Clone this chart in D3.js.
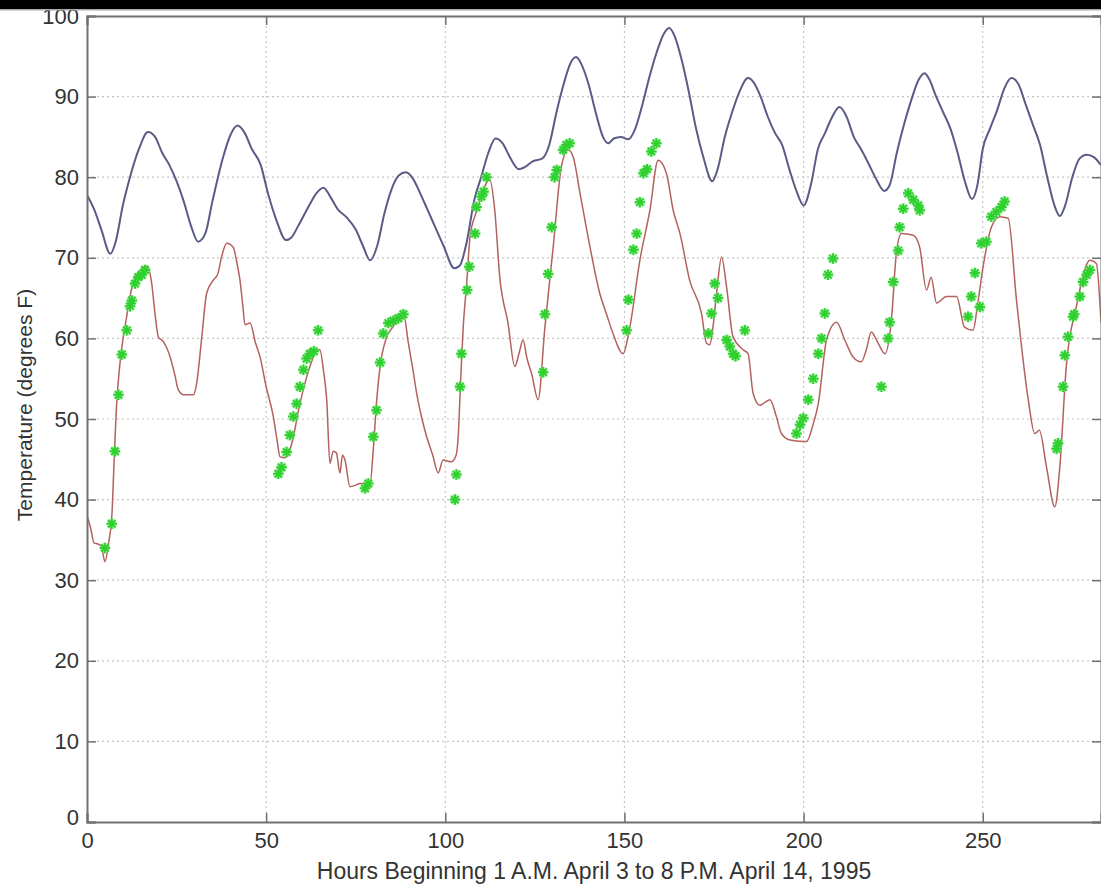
<!DOCTYPE html>
<html>
<head>
<meta charset="utf-8">
<script src="https://cdn.jsdelivr.net/npm/d3@7"></script>
<style>
  body { margin: 0; background: #fff; }
  text { font-family: "Liberation Sans", Arial, sans-serif; fill: #333; }
</style>
</head>
<body>
<div id="grafico"></div>
<script>
// blue curve (upper)
const azulHoras = [0,2,4,6.5,8,10,12,14.5,17,19,21,23,25,27,29,31,33,35,38,40,42,44,46,48.5,50.5,53,55.5,57,59,62,64,66,68,70,72.5,75,77,79,81,83,85,87,89,91,93,95,97,99.5,102.5,104,106,108,110,112,114,116,118,120.5,122,124.5,127,129,131,133,135,136.5,138,140,142,144,145.5,147,149,151,153,155,157,159,161,162.5,164,166,168,170,172,174.5,176,178,180,182,184.5,186,188,190,192,194,196,198,200,202,204,206,208,210,212,214,216,218,220,222.5,224,226,228,230,232,233.8,235,237,239,241,243,245,247,248.5,250,252,254,256,258,260,262,264,266,268,270,271.5,273,275,277,279,281,283];
const azulTemp = [77.8,76,73.5,70.5,72,76.5,80,83.5,85.6,85,83,81.5,79.5,77,74,72,73,77,82.5,85.2,86.4,85.5,83.5,81.5,78,74.5,72.2,72.5,74,76.5,78,78.7,77.5,76,75,73.5,71.5,69.7,71.5,75.5,78.5,80.2,80.6,79.8,78,76,74,71.5,68.7,69,72,77,80,83,84.8,84.2,82.5,81,81.2,82,82.3,84,88,91.5,94.2,94.9,94,91.5,88,85,84.2,84.8,85,84.7,86,89,92.5,95.5,97.8,98.5,97.5,94.5,90.5,86,82.5,79.5,81,85,88,90.5,92.3,91.8,90,87.5,85.5,84,81,78.3,76.5,79,83.5,85.5,87.5,88.7,87.5,85,83.5,81.8,80,78.3,79,83,86.5,89.5,92,92.9,92.2,90,88,86,83,79.5,77.3,79,83.5,86,88.3,91,92.3,91.5,89,86.5,84,80,76.5,75.2,76.5,80,82.3,82.8,82.5,81.5];

// red curve (lower)
const rojoHoras = [0,1,2,3,4,5,6,7,7.5,8.3,9,10,11,12,13.4,15,16.6,18,19,19.9,21.3,23.2,24.5,25.5,27,29.7,30.6,32,33.4,35.2,36.5,37.5,39,40.8,42,42.7,43.5,44.1,45.5,47,48.3,50,52,53,53.9,55.2,56.5,57.6,59,61.3,63,64.1,65,66,66.9,67.8,68.7,69.6,70.6,71.3,72,73.4,75,76.2,79,79.9,80.8,81.8,83.5,85.5,88.3,89.7,91,92,93.5,94.8,96.5,98,99.4,101.7,103,103.6,104.3,105,106,106.9,108.5,109.7,112.4,113.8,115.2,117.5,119.4,120.5,121.7,122.8,124.1,125.9,127.8,130.1,132.4,134.3,135.7,137.6,140.4,143.1,145,146.8,149.6,151.5,154.3,157.1,159.4,161.7,163.6,165.5,168.2,171.5,172.9,173.8,174.7,175.8,177.1,178.5,180.3,183.1,184.5,185.9,187.8,189,190.6,192.4,193.8,196.2,200.8,202.7,204.1,206.4,209.2,211.5,213.8,216.1,217.5,218.9,220.8,222.7,224.5,225.9,227.3,230.6,232.4,234.3,235.6,237.1,239.9,242.7,244.9,247.3,248.5,250.1,252.4,254.7,257.1,259.4,262.7,264.5,265.8,267.8,270.1,271.5,273.3,276.1,279.9,281.7,283];
const rojoTemp = [38,36.5,34.6,34.5,34.2,32.3,34.5,38.5,44,52,56,59.8,62.5,65.2,67.6,68.5,69,67,63,60.2,59.6,57.7,55.5,53.6,53,53,54.4,60,65.6,67.2,68,70,71.8,71.3,69,67.2,64,61.7,61.9,59.5,57.7,54,50.3,47.5,45.3,45.2,46,47.8,51,55.2,57.5,58.6,58.6,56,52.4,44.5,46,45.8,43.3,45.5,44.9,41.6,41.8,42,42,46.2,52,56.5,60,61.5,63.1,59.4,56,53.2,50,47.8,45.5,43.3,44.9,44.7,45.5,47.8,55,61.4,67,72.6,75.5,77.2,79.7,75.9,67.6,61.9,56.5,58,59.8,57.5,55.6,52.4,61.4,71.3,81.3,83.4,82.5,78,71.3,65.6,63,60.6,58.1,61.4,69.7,75.9,82.1,80.5,75.9,73,67.2,63.1,59.4,59.2,61.4,66,70.1,66.4,60.2,58.6,58.1,53.2,51.7,52,52.4,50.3,48.2,47.4,47.2,49.4,51.9,59.8,62,59.8,57.7,57.1,58.6,60.8,59.4,58.1,62.3,70.6,73,72.8,71.3,66,67.6,64.4,65.2,65.2,61.4,61,64,68.9,73.8,75.1,74.9,64.8,52.4,48.2,48.6,44,39.1,44,56.5,63.9,69.7,69.3,62];

// green asterisks
const verdeHoras = [5,6.9,7.8,8.8,9.7,11.1,12,12.5,13.4,14.3,15.3,16.2,
  53.4,54.3,55.7,56.6,57.6,58.5,59.4,60.4,61.3,62.2,63.3,64.5,
  77.6,78.5,79.9,80.8,81.8,82.7,84.1,85.5,86.9,88.3,
  102.7,103.1,104.1,104.5,106.1,106.7,108.3,108.7,110.1,110.7,111.5,
  127.3,127.8,128.7,129.7,130.5,131.1,132.9,133.8,134.7,
  150.6,151.1,152.5,153.4,154.3,155.3,156.3,157.5,158.9,
  173.4,174.3,175.2,176.1,178.5,179.4,180.3,181,183.6,
  198,199,199.9,201.3,202.7,204.1,205,205.9,206.8,208.2,
  221.7,223.6,224,225,226.4,226.8,227.8,229.2,230.6,232,232.4,
  245.9,246.8,247.8,249.2,249.6,251,252.4,253.8,255.2,256.1,
  270.6,271,272.4,272.9,273.8,275.2,275.5,277.1,278,279,279.9];
const verdeTemp = [34,37,46,53,58,61,64,64.7,66.8,67.6,67.9,68.5,
  43.2,44,45.9,48,50.3,51.9,54,56.1,57.5,58.1,58.4,61,
  41.4,42,47.8,51.1,57,60.6,61.9,62.2,62.5,63,
  40,43.1,54,58.1,66,68.9,73,76.3,77.6,78.2,80,
  55.8,63,68,73.8,80,80.9,83.4,84,84.2,
  61,64.8,71,73,76.9,80.5,81,83.2,84.2,
  60.6,63.1,66.8,65,59.8,59,58.1,57.8,61,
  48.2,49.3,50.1,52.4,55,58.1,60,63.1,67.9,69.9,
  54,60,62,67,70.9,73.8,76.1,78,77.2,76.5,75.9,
  62.7,65.2,68.1,63.9,71.8,72,75.1,75.7,76.3,77,
  46.3,47,54,57.9,60.2,62.7,63,65.2,67,67.9,68.5];

const ticksX = [0, 50, 100, 150, 200, 250];
const ticksY = [0, 10, 20, 30, 40, 50, 60, 70, 80, 90, 100];

const ancho = 1101, alto = 887;
const izq = 87, der = 1101, arriba = 16, abajo = 822;

const $svg = d3.select("#grafico")
  .append("svg")
  .attr("width", ancho)
  .attr("height", alto);

$svg.append("rect").attr("width", ancho).attr("height", alto).attr("fill", "#fff");

const x = d3.scaleLinear().domain([0, 283]).range([izq, der]);
const y = d3.scaleLinear().domain([0, 100]).range([abajo, arriba]);

// grilla punteada
const grilla = $svg.append("g");
grilla.selectAll(".gx").data(ticksX.slice(1)).join("line")
  .attr("x1", d => x(d)).attr("x2", d => x(d))
  .attr("y1", arriba).attr("y2", abajo)
  .attr("stroke", "#c4c4c4").attr("stroke-width", 1.2)
  .attr("stroke-dasharray", "2,3");
grilla.selectAll(".gy").data(ticksY.slice(1, -1)).join("line")
  .attr("x1", izq).attr("x2", der)
  .attr("y1", d => y(d)).attr("y2", d => y(d))
  .attr("stroke", "#c4c4c4").attr("stroke-width", 1.2)
  .attr("stroke-dasharray", "2,3");

$svg.append("clipPath").attr("id", "recorte")
  .append("rect").attr("x", izq).attr("y", arriba)
  .attr("width", der - izq).attr("height", abajo - arriba);

const datos = $svg.append("g").attr("clip-path", "url(#recorte)");
const linea = d3.line().x(d => x(d[0])).y(d => y(d[1])).curve(d3.curveMonotoneX);

datos.append("path")
  .attr("d", linea(d3.zip(azulHoras, azulTemp)))
  .attr("fill", "none").attr("stroke", "#5a5b86").attr("stroke-width", 2);

datos.append("path")
  .attr("d", linea(d3.zip(rojoHoras, rojoTemp)))
  .attr("fill", "none").attr("stroke", "#b3625e").attr("stroke-width", 1.5);

// asterisco tipo matlab
const asterisco = {
  draw(ctx, size) {
    const r = Math.sqrt(size) / 2, k = r * Math.SQRT1_2;
    ctx.moveTo(-r, 0); ctx.lineTo(r, 0);
    ctx.moveTo(0, -r); ctx.lineTo(0, r);
    ctx.moveTo(-k, -k); ctx.lineTo(k, k);
    ctx.moveTo(-k, k); ctx.lineTo(k, -k);
  }
};
const puntos = d3.zip(verdeHoras, verdeTemp);
datos.append("g").selectAll("circle").data(puntos).join("circle")
  .attr("cx", d => x(d[0])).attr("cy", d => y(d[1]))
  .attr("r", 5.5).attr("fill", "#8ef08e").attr("opacity", 0.55);
datos.append("g").selectAll("path").data(puntos).join("path")
  .attr("transform", d => `translate(${x(d[0])},${y(d[1])})`)
  .attr("d", d3.symbol(asterisco, 110))
  .attr("fill", "none").attr("stroke", "#2fd02f").attr("stroke-width", 2);

// ejes con ticks hacia adentro
const ejeX = $svg.append("g").attr("transform", `translate(0,${abajo})`)
  .call(d3.axisBottom(x).tickValues(ticksX).tickSize(-9).tickPadding(10));
const ejeY = $svg.append("g").attr("transform", `translate(${izq},0)`)
  .call(d3.axisLeft(y).tickValues(ticksY).tickSize(-9).tickPadding(8));
$svg.append("g").attr("transform", `translate(0,${arriba})`)
  .call(d3.axisTop(x).tickValues(ticksX).tickSize(-9).tickFormat(""));
$svg.append("g").attr("transform", `translate(${der},0)`)
  .call(d3.axisRight(y).tickValues(ticksY).tickSize(-9).tickFormat(""));

$svg.selectAll(".domain").attr("stroke", "#707070").attr("stroke-width", 2);
$svg.selectAll(".tick line").attr("stroke", "#707070").attr("stroke-width", 1.5);
$svg.selectAll(".tick text").attr("font-size", 22).attr("fill", "#333")
  .attr("font-family", "Liberation Sans, Arial, sans-serif");
ejeY.selectAll(".tick text").filter(d => d === 0).attr("dy", "0.1em");

$svg.append("text")
  .attr("x", 594).attr("y", 879)
  .attr("text-anchor", "middle").attr("font-size", 23)
  .text("Hours Beginning 1 A.M. April 3 to 8 P.M. April 14, 1995");

$svg.append("text")
  .attr("transform", `translate(32,405) rotate(-90)`)
  .attr("text-anchor", "middle").attr("font-size", 21)
  .text("Temperature (degrees F)");

// franja negra superior
$svg.append("rect").attr("x", 0).attr("y", 0).attr("width", ancho).attr("height", 9).attr("fill", "#000");
$svg.append("rect").attr("x", 0).attr("y", 9).attr("width", ancho).attr("height", 1.5).attr("fill", "#aaa");
</script>
</body>
</html>
